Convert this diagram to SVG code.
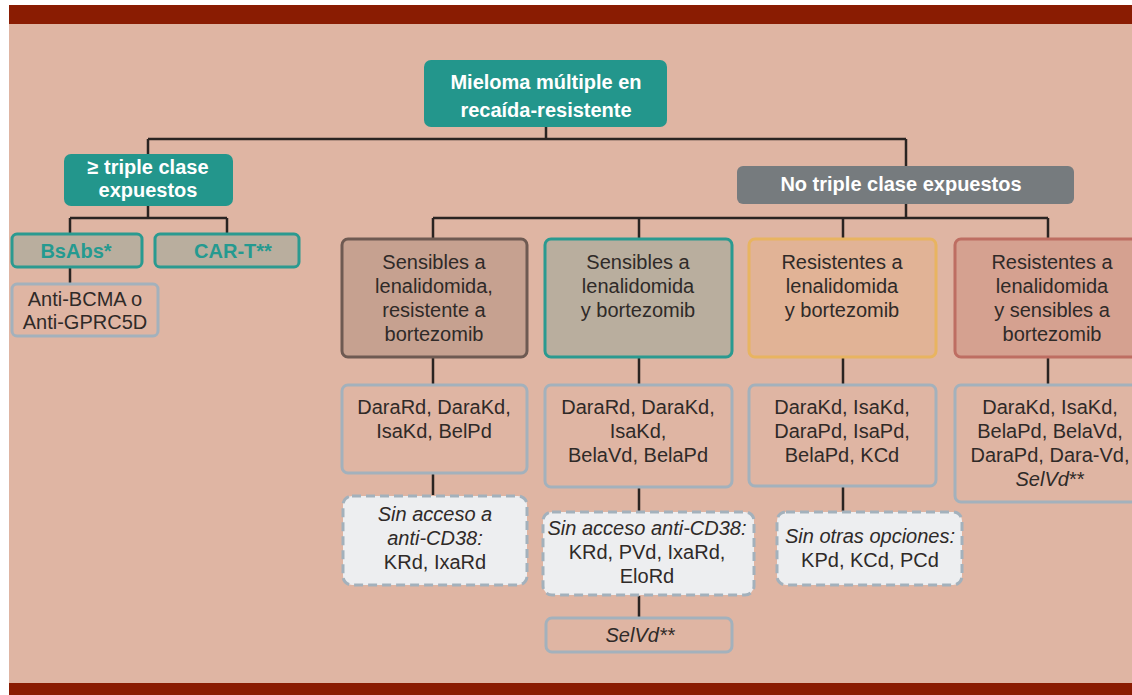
<svg xmlns="http://www.w3.org/2000/svg" width="1132" height="695" viewBox="0 0 1132 695">
<style>
.t{font-family:"Liberation Sans",Arial,sans-serif;font-size:20px;fill:#2f2a28;text-anchor:middle}
.b{font-weight:bold;fill:#ffffff}
.tb{font-weight:bold;fill:#249a90}
.i{font-style:italic}
.tealbox{fill:#23968c}
.sub{fill:#b9ae9e;stroke:#2a9a90;stroke-width:3}
.opt{fill:none;stroke:#a3b1bc;stroke-width:3}
.dash{fill:#edeef0;stroke:#a3b1bc;stroke-width:3;stroke-dasharray:9 5}
.c{fill:none;stroke:#2a2422;stroke-width:2.5}
</style>
<rect x="0" y="0" width="1132" height="695" fill="#ffffff"/>
<rect x="9" y="24" width="1123" height="659" fill="#dfb5a3"/>
<rect x="9" y="5" width="1123" height="19" fill="#8a1c02"/>
<rect x="9" y="683" width="1123" height="12" fill="#8a1c02"/>

<g id="connectors">
<path class="c" d="M546 127V139M148 139H906M148 139V154M906 139V166"/>
<path class="c" d="M148 206V218M70 218H227M70 218V233M227 218V233M70 268V283"/>
<path class="c" d="M906 204V218M433 218H1048M433 218V238M639 218V238M843 218V238M1048 218V238"/>
<path class="c" d="M433 358V384M639 358V384M843 358V384M1048 358V384"/>
<path class="c" d="M433 474V495M639 488V511M843 487V511M639 596V617"/>
</g>

<g id="root">
<rect class="tealbox" x="424" y="60" width="243" height="67" rx="7"/>
<text class="t b" x="546" y="89">Mieloma múltiple en</text>
<text class="t b" x="546" y="117">recaída-resistente</text>
</g>

<g id="triple">
<rect class="tealbox" x="64" y="154" width="169" height="52" rx="7"/>
<text class="t b" x="148" y="174">≥ triple clase</text>
<text class="t b" x="148" y="197">expuestos</text>
</g>

<g id="bsabs">
<rect class="sub" x="12" y="234" width="130" height="33" rx="5"/>
<text class="t tb" x="76" y="258">BsAbs*</text>
</g>
<g id="cart">
<rect class="sub" x="155" y="234" width="144" height="33" rx="5"/>
<text class="t tb" x="233" y="258">CAR-T**</text>
</g>
<g id="anti">
<rect class="opt" x="12" y="284" width="146" height="52" rx="5"/>
<text class="t" x="85" y="306">Anti-BCMA o</text>
<text class="t" x="85" y="329">Anti-GPRC5D</text>
</g>

<g id="notriple">
<rect x="737" y="166" width="337" height="38" rx="6" fill="#767b7e"/>
<text class="t b" x="901" y="191">No triple clase expuestos</text>
</g>

<g id="g1">
<rect x="342" y="239" width="185" height="118" rx="6" fill="#c6a190" stroke="#6e5a52" stroke-width="3"/>
<text class="t" x="434" y="269">Sensibles a</text>
<text class="t" x="434" y="293">lenalidomida,</text>
<text class="t" x="434" y="317">resistente a</text>
<text class="t" x="434" y="341">bortezomib</text>
</g>
<g id="g2">
<rect x="545" y="239" width="187" height="118" rx="6" fill="#b9ae9e" stroke="#2a9a90" stroke-width="3"/>
<text class="t" x="638" y="269">Sensibles a</text>
<text class="t" x="638" y="293">lenalidomida</text>
<text class="t" x="638" y="317">y bortezomib</text>
</g>
<g id="g3">
<rect x="749" y="239" width="187" height="118" rx="6" fill="#e1b396" stroke="#e8b460" stroke-width="3"/>
<text class="t" x="842" y="269">Resistentes a</text>
<text class="t" x="842" y="293">lenalidomida</text>
<text class="t" x="842" y="317">y bortezomib</text>
</g>
<g id="g4">
<rect x="955" y="239" width="187" height="118" rx="6" fill="#d5a190" stroke="#be6e62" stroke-width="3"/>
<text class="t" x="1052" y="269">Resistentes a</text>
<text class="t" x="1052" y="293">lenalidomida</text>
<text class="t" x="1052" y="317">y sensibles a</text>
<text class="t" x="1052" y="341">bortezomib</text>
</g>

<g id="r1">
<rect class="opt" x="342" y="385" width="185" height="88" rx="6"/>
<text class="t" x="434" y="414">DaraRd, DaraKd,</text>
<text class="t" x="434" y="438">IsaKd, BelPd</text>
</g>
<g id="r2">
<rect class="opt" x="545" y="385" width="187" height="102" rx="6"/>
<text class="t" x="638" y="414">DaraRd, DaraKd,</text>
<text class="t" x="638" y="438">IsaKd,</text>
<text class="t" x="638" y="462">BelaVd, BelaPd</text>
</g>
<g id="r3">
<rect class="opt" x="749" y="385" width="187" height="101" rx="6"/>
<text class="t" x="842" y="414">DaraKd, IsaKd,</text>
<text class="t" x="842" y="438">DaraPd, IsaPd,</text>
<text class="t" x="842" y="462">BelaPd, KCd</text>
</g>
<g id="r4">
<rect class="opt" x="955" y="385" width="187" height="117" rx="6"/>
<text class="t" x="1050" y="414">DaraKd, IsaKd,</text>
<text class="t" x="1050" y="438">BelaPd, BelaVd,</text>
<text class="t" x="1050" y="462">DaraPd, Dara-Vd,</text>
<text class="t" x="1050" y="486"><tspan class="i">SelVd</tspan>**</text>
</g>

<g id="s1">
<rect class="dash" x="343" y="496" width="184" height="89" rx="9"/>
<text class="t i" x="435" y="521">Sin acceso a</text>
<text class="t i" x="435" y="545">anti-CD38:</text>
<text class="t" x="435" y="569">KRd, IxaRd</text>
</g>
<g id="s2">
<rect class="dash" x="543" y="512" width="211" height="83" rx="9"/>
<text class="t i" x="647" y="535">Sin acceso anti-CD38:</text>
<text class="t" x="647" y="559">KRd, PVd, IxaRd,</text>
<text class="t" x="647" y="583">EloRd</text>
</g>
<g id="s3">
<rect class="dash" x="777" y="512" width="185" height="73" rx="9"/>
<text class="t i" x="870" y="543">Sin otras opciones:</text>
<text class="t" x="870" y="567">KPd, KCd, PCd</text>
</g>
<g id="selvd">
<rect class="opt" x="546" y="618" width="186" height="34" rx="6"/>
<text class="t i" x="640" y="642">SelVd**</text>
</g>
</svg>
